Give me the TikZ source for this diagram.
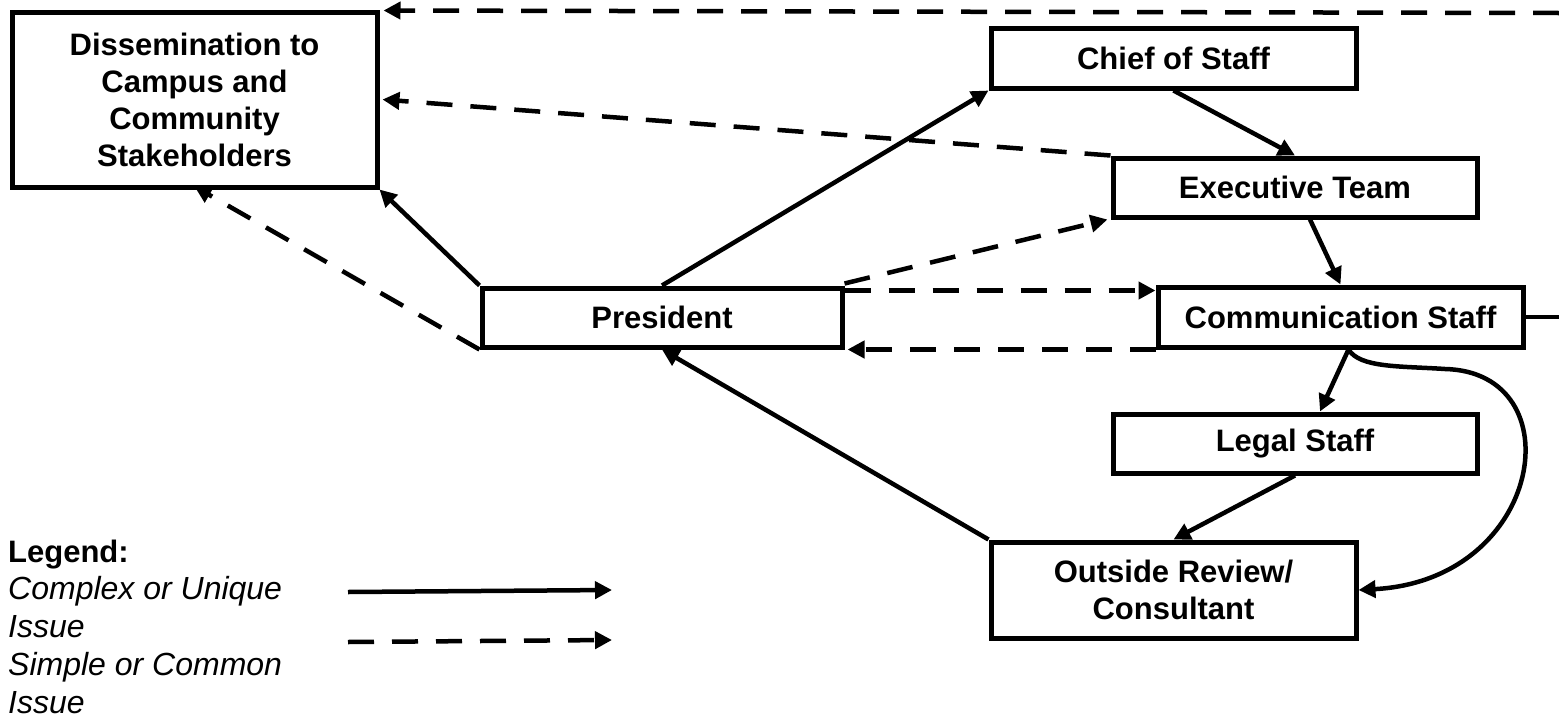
\documentclass[tikz,border=0pt]{standalone}
\usepackage{fontspec}
\setmainfont{Liberation Sans}
\usetikzlibrary{arrows.meta}
\tikzset{
  unit/.style={draw, line width=5pt, inner sep=0pt, align=center,
               font=\bfseries\fontsize{31}{37}\selectfont},
  flow/.style={line width=4.5pt, -{Triangle[length=17pt,width=17pt]}},
  flowdashed/.style={flow, dash pattern=on 26pt off 18pt},
}

\begin{document}
\begin{tikzpicture}[x=1pt, y=-1pt]
            \useasboundingbox                                             (0,0) rectangle (1559,718);
            % units
            \node[unit, minimum width=365pt, minimum height=175pt] (dis)   at ( 194.5,  99.5) {Dissemination to\\Campus and\\Community\\Stakeholders};
            \node[unit, minimum width=365pt, minimum height=60pt]  (chief) at (1173.5,  58.0) {Chief of Staff};
            \node[unit, minimum width=364pt, minimum height=59pt]  (exec)  at (1295.0, 187.5) {Executive Team};
            \node[unit, minimum width=360pt, minimum height=59pt]  (pres)  at ( 662.0, 317.5) {President};
            \node[unit, minimum width=365pt, minimum height=60pt]  (comm)  at (1340.5, 317.0) {Communication Staff};
            \node[unit, minimum width=364pt, minimum height=59pt]  (legal) at (1295.0, 443.5) {Legal Staff};
            \node[unit, minimum width=365pt, minimum height=96pt]  (out)   at (1173.5, 590.0) {Outside Review/\\Consultant};
            \coordinate (topend)  at (1559, 13);
            \coordinate (sideend) at (1559,317);
            % solid flows
            \draw[flow]       (pres.north)                -- (chief.south west);
            \draw[flow]       (chief.south)               -- (exec.north);
            \draw[flow]       ([xshift=15pt]exec.south)   -- (comm.north);
            \draw[flow]       (pres.north west)           -- (dis.south east);
            \draw[flow]       (out.north west)            -- (pres.south);
            \draw[flow]       ([xshift=8pt]comm.south)    -- ([xshift=25pt]legal.north);
            \draw[flow]       (legal.south)               -- (out.north);
            \draw[flow]       ([xshift=8pt]comm.south) .. controls (1360,368) and (1400,366) .. (1445,369)
                                                        .. controls (1575,372) and (1545,580) .. (out.east);
            \draw[line width=4.5pt] (comm.east)            -- (sideend);
            % dashed flows
            \draw[flowdashed] (topend)                    -- ([yshift=-1pt,xshift=4pt]dis.north east);
            \draw[flowdashed] (exec.north west)           -- ([xshift=3pt]dis.east);
            \draw[flowdashed] ([yshift=2pt]pres.north east) -- ([xshift=-3pt]exec.south west);
            \draw[flowdashed] ([yshift=-5pt]pres.north east) -- ([yshift=-6pt]comm.north west);
            \draw[flowdashed] (comm.south west)           -- ([xshift=3pt]pres.south east);
            \draw[flowdashed] (pres.south west)           -- ([yshift=3pt]dis.south);
            % legend
            \node[anchor=base west, inner sep=0pt, font=\bfseries\fontsize{31}{38}\selectfont] (legtitle) at (8,562) {Legend:};
            \node[anchor=north west, align=left, inner sep=0pt, font=\itshape\fontsize{32}{38}\selectfont] (legtext)
                 at (8,576) {Complex or Unique\\Issue\\Simple or Common\\Issue};
            \coordinate (lega) at (348,592); \coordinate (legb) at (612,590);
            \coordinate (legc) at (348,642); \coordinate (legd) at (612,640);
            \draw[flow]       (lega) -- (legb);
            \draw[flowdashed] (legc) -- (legd);
\end{tikzpicture}
\end{document}
